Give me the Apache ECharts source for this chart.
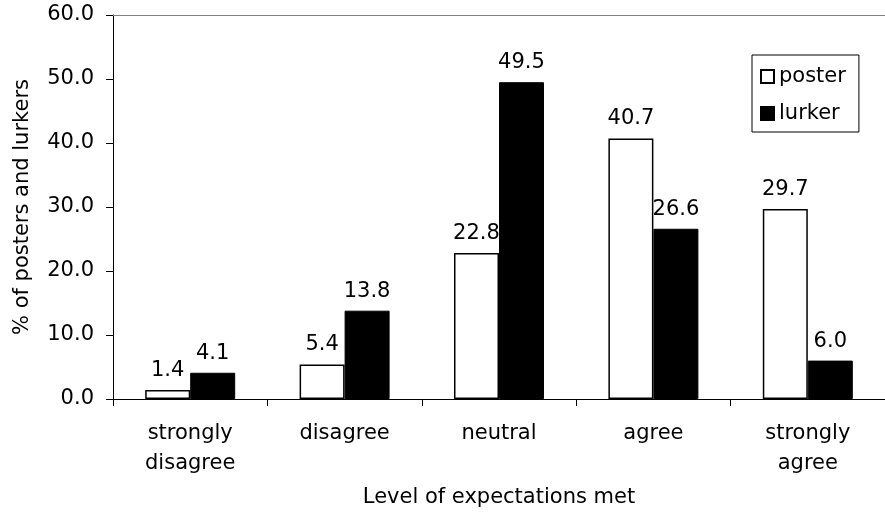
<!DOCTYPE html>
<html>
<head>
<meta charset="utf-8">
<script src="https://cdn.jsdelivr.net/npm/echarts@6/dist/echarts.min.js"></script>
<style>
  html, body { margin: 0; padding: 0; background: #fff; }
  #chart { width: 885px; height: 516px; }
</style>
</head>
<body>
<div id="chart"></div>
<script>
// Survey responses: share of posters and lurkers by level of expectations met
const categories = ['strongly\ndisagree', 'disagree', 'neutral', 'agree', 'strongly\nagree'];
const posterValues = [1.4, 5.4, 22.8, 40.7, 29.7];
const lurkerValues = [4.1, 13.8, 49.5, 26.6, 6.0];
const yTicks = [0, 10, 20, 30, 40, 50, 60];

const FONT = 'DejaVu Sans, Verdana, sans-serif';
const FS = 21;
const chart = echarts.init(document.getElementById('chart'), null, { renderer: 'canvas' });

const labelStyle = {
  show: true,
  position: 'top',
  distance: 9,
  color: '#000',
  fontFamily: FONT,
  fontSize: FS,
  formatter: p => p.value.toFixed(1)
};

chart.setOption({
  animation: false,
  backgroundColor: '#fff',
  grid: { left: 113, top: 15, width: 780, height: 384, containLabel: false },
  legend: {
    orient: 'vertical',
    left: 752,
    top: 55,
    padding: [11, 13, 8, 8],
    itemGap: 16,
    itemWidth: 13,
    itemHeight: 13,
    borderColor: '#000',
    borderWidth: 1,
    textStyle: { fontFamily: FONT, fontSize: FS, color: '#000', padding: [0, 0, 0, 0] },
    data: [
      { name: 'poster', icon: 'rect' },
      { name: 'lurker', icon: 'rect' }
    ]
  },
  xAxis: [
    {
      type: 'category',
      data: categories,
      position: 'bottom',
      name: 'Level of expectations met',
      nameLocation: 'middle',
      nameGap: 88,
      nameTextStyle: { fontFamily: FONT, fontSize: FS, color: '#000' },
      axisLine: { lineStyle: { color: '#000', width: 1 } },
      axisTick: { show: true, length: 7, lineStyle: { color: '#000' } },
      axisLabel: { fontFamily: FONT, fontSize: FS, color: '#000', margin: 20, lineHeight: 30, interval: 0 }
    },
    {
      type: 'category',
      data: categories,
      position: 'top',
      axisLine: { show: true, lineStyle: { color: '#808080', width: 1 } },
      axisTick: { show: false },
      axisLabel: { show: false }
    }
  ],
  yAxis: {
    type: 'value',
    min: 0,
    max: 60,
    interval: 10,
    name: '% of posters and lurkers',
    nameLocation: 'middle',
    nameGap: 80,
    nameTextStyle: { fontFamily: FONT, fontSize: FS, color: '#000' },
    axisLine: { show: true, lineStyle: { color: '#000', width: 1 } },
    axisTick: { show: true, length: 7, lineStyle: { color: '#000' } },
    axisLabel: {
      fontFamily: FONT, fontSize: FS, color: '#000', margin: 19,
      formatter: v => yTicks.includes(v) ? v.toFixed(1) : ''
    },
    splitLine: { show: false }
  },
  series: [
    {
      name: 'poster',
      type: 'bar',
      data: posterValues,
      barWidth: 45,
      barGap: '0%',
      itemStyle: { color: '#fff', borderColor: '#000', borderWidth: 1.5 },
      label: labelStyle
    },
    {
      name: 'lurker',
      type: 'bar',
      data: lurkerValues,
      barWidth: 45,
      barGap: '0%',
      itemStyle: { color: '#000', borderColor: '#000', borderWidth: 1 },
      label: labelStyle
    }
  ]
});
</script>
</body>
</html>
